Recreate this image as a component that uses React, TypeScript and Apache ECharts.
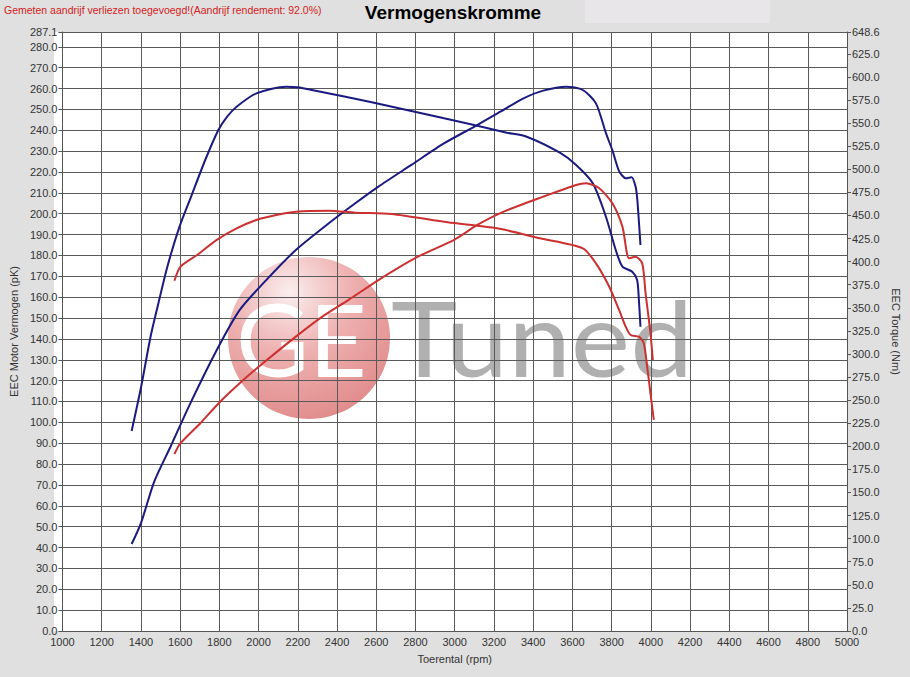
import React, { useEffect, useRef } from "react";
import * as echarts from "echarts";

// ---- Data ----
const rpmBlueTorque = [1353, 1400, 1449, 1481, 1535, 1597, 1656, 1728, 1795, 1840, 1888, 1989, 2140, 2199, 2291, 2443, 2577, 2796, 2946, 3115, 3266, 3367, 3536, 3619, 3704, 3771, 3821, 3855, 3905, 3930, 3939, 3947];
const blueTorqueNm = [216.6, 263.1, 318.3, 347.6, 394.5, 437.8, 470.3, 510.0, 542.5, 557.0, 567.7, 582.2, 589.4, 588.7, 585.0, 578.5, 572.5, 562.3, 555.1, 547.1, 539.6, 535.2, 517.9, 504.6, 484.8, 448.6, 412.5, 394.5, 389.0, 380.1, 358.4, 329.5];

const rpmBluePower = [1353, 1400, 1468, 1551, 1652, 1787, 1904, 2039, 2190, 2358, 2493, 2611, 2779, 2947, 3115, 3233, 3351, 3451, 3569, 3653, 3720, 3771, 3805, 3838, 3872, 3902, 3922, 3931, 3947];
const bluePowerPk = [41.7, 51.6, 71.6, 88.3, 109.1, 134.7, 153.9, 168.2, 182.6, 195.4, 205.0, 213.0, 223.4, 233.8, 242.5, 248.9, 255.3, 259.0, 260.9, 259.3, 252.9, 238.6, 230.1, 220.4, 217.0, 217.5, 213.0, 206.6, 185.0];

const rpmRedTorque = [1571, 1602, 1686, 1787, 1888, 1989, 2090, 2190, 2358, 2493, 2678, 2964, 3216, 3435, 3653, 3720, 3788, 3838, 3872, 3897, 3939, 3964, 3981, 3998, 4015];
const redTorqueNm = [379.3, 394.5, 407.1, 423.5, 436.0, 445.1, 450.4, 454.0, 455.1, 452.9, 451.5, 442.5, 436.0, 425.2, 414.4, 398.1, 372.8, 347.6, 329.5, 320.5, 318.7, 311.5, 286.2, 257.4, 228.5];

const rpmRedPower = [1571, 1602, 1703, 1804, 1922, 2022, 2190, 2325, 2459, 2611, 2812, 2997, 3115, 3250, 3451, 3619, 3670, 3737, 3804, 3855, 3889, 3922, 3956, 3973, 3998, 4010];
const redPowerPk = [84.8, 90.0, 99.6, 109.9, 120.3, 128.3, 141.1, 150.7, 158.7, 168.2, 179.4, 187.5, 194.6, 201.0, 208.2, 213.8, 214.6, 212.2, 205.0, 193.8, 178.6, 179.4, 176.2, 161.9, 142.7, 129.9];

// axis ranges / tick steps
const rpmRange = [1000, 5000];
const rpmStep = 200;
const powerRange = [0, 287.1];
const powerStep = 10;
const torqueRange = [0, 648.6];
const torqueStep = 25;

const titleText = "Vermogenskromme";
const noteText = "Gemeten aandrijf verliezen toegevoegd!(Aandrijf rendement: 92.0%)";

const zip = (xs: number[], ys: number[]) => xs.map((x, i) => [x, ys[i]]);

const BLUE = "#1a1a80";
const RED = "#cc3030";
const FONT = "'Liberation Sans', Arial, sans-serif";

export default function App() {
  const ref = useRef<HTMLDivElement>(null);

  useEffect(() => {
    document.body.style.margin = "0";
    if (!ref.current) return;
    const chart = echarts.init(ref.current, null, { renderer: "svg" });
    const G = { left: 54, top: 32, width: 793, height: 599 };
    const axisText = { color: "#333", fontSize: 11, fontFamily: FONT };
    const lineSeries = (name: string, data: number[][], color: string, yAxisIndex: number) => ({
      name,
      type: "line",
      data,
      yAxisIndex,
      smooth: 0.25,
      showSymbol: false,
      symbol: "none",
      lineStyle: { color, width: 2 },
      z: 5,
    });
    chart.setOption({
      animation: false,
      backgroundColor: "#e0e0e0",
      grid: { left: G.left, top: G.top, width: G.width, height: G.height, containLabel: false },
      xAxis: {
        type: "value",
        min: rpmRange[0],
        max: rpmRange[1],
        interval: rpmStep,
        name: "Toerental (rpm)",
        nameLocation: "middle",
        nameGap: 22,
        nameTextStyle: axisText,
        axisLine: { show: true, lineStyle: { color: "#555", width: 1 } },
        axisTick: { show: false },
        axisLabel: { ...axisText, margin: 5, formatter: (v: number) => String(v) },
        splitLine: { show: true, lineStyle: { color: "#5a5a5a", width: 1 } },
      },
      yAxis: [
        {
          type: "value",
          position: "left",
          min: powerRange[0],
          max: powerRange[1],
          interval: powerStep,
          name: "EEC Motor Vermogen (pK)",
          nameLocation: "middle",
          nameRotate: 90,
          nameGap: 40,
          nameTextStyle: axisText,
          axisLine: { show: true, lineStyle: { color: "#555", width: 1 } },
          axisTick: { show: true, length: 4, lineStyle: { color: "#555" } },
          axisLabel: { ...axisText, margin: 5, formatter: (v: number) => v.toFixed(1) },
          splitLine: { show: true, lineStyle: { color: "#5a5a5a", width: 1 } },
        },
        {
          type: "value",
          position: "right",
          min: torqueRange[0],
          max: torqueRange[1],
          interval: torqueStep,
          name: "EEC Torque (Nm)",
          nameLocation: "middle",
          nameRotate: -90,
          nameGap: 38,
          nameTextStyle: axisText,
          axisLine: { show: true, lineStyle: { color: "#555", width: 1 } },
          axisTick: { show: true, length: 4, lineStyle: { color: "#555" } },
          axisLabel: { ...axisText, margin: 5, formatter: (v: number) => v.toFixed(1) },
          splitLine: { show: false },
        },
      ],
      graphic: [
        { type: "rect", silent: true, z: -10, shape: { x: 585, y: 0, width: 185, height: 23 }, style: { fill: "#e8e6e8" } },
        { type: "rect", silent: true, z: -10, shape: { x: G.left, y: G.top, width: G.width, height: G.height }, style: { fill: "#ffffff" } },
        {
          type: "circle",
          silent: true,
          z: -6,
          shape: { cx: 309, cy: 338, r: 81 },
          style: {
            fill: {
              type: "radial",
              x: 0.38,
              y: 0.22,
              r: 0.85,
              colorStops: [
                { offset: 0, color: "#fbeeee" },
                { offset: 0.45, color: "#eeb0b0" },
                { offset: 1, color: "#e08888" },
              ],
            },
          },
        },
        {
          type: "text",
          silent: true,
          z: -5,
          x: 236,
          y: 338,
          style: { text: "GE", fill: "#ffffff", fontSize: 100, fontFamily: "Lato, 'Open Sans', sans-serif", fontWeight: "normal", align: "left", verticalAlign: "middle", textAlign: "left", textVerticalAlign: "middle" },
        },
        {
          type: "text",
          silent: true,
          z: -5,
          x: 391,
          y: 337,
          scaleX: 1.08,
          style: { text: "Tuned", fill: "#b0b0b0", fontSize: 104, fontFamily: "Lato, 'Open Sans', sans-serif", fontWeight: "normal", align: "left", verticalAlign: "middle", textAlign: "left", textVerticalAlign: "middle" },
        },
        {
          type: "text",
          silent: true,
          x: 453,
          y: 12,
          style: { text: titleText, fill: "#000", fontSize: 19, fontWeight: "bold", fontFamily: FONT, align: "center", verticalAlign: "middle", textAlign: "center", textVerticalAlign: "middle" },
        },
        {
          type: "text",
          silent: true,
          x: 4,
          y: 10,
          style: { text: noteText, fill: "#d42020", fontSize: 10.5, fontFamily: FONT, align: "left", verticalAlign: "middle", textAlign: "left", textVerticalAlign: "middle" },
        },
      ],
      series: [
        lineSeries("Koppel (blauw)", zip(rpmBlueTorque, blueTorqueNm), BLUE, 1),
        lineSeries("Vermogen (blauw)", zip(rpmBluePower, bluePowerPk), BLUE, 0),
        lineSeries("Koppel (rood)", zip(rpmRedTorque, redTorqueNm), RED, 1),
        lineSeries("Vermogen (rood)", zip(rpmRedPower, redPowerPk), RED, 0),
      ],
    });
    return () => chart.dispose();
  }, []);

  return <div ref={ref} style={{ width: 910, height: 677 }} />;
}
